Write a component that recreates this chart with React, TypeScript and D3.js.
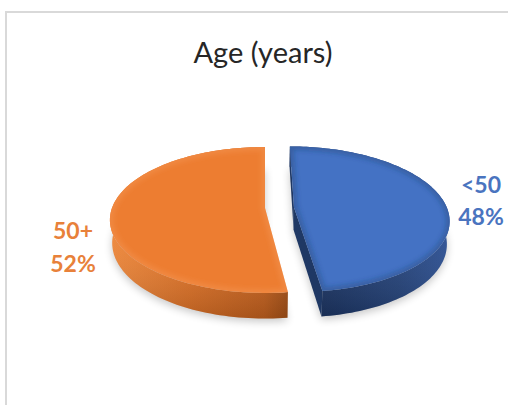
import React from 'react';
import * as d3 from 'd3';

const categories = ['<50', '50+'];
const values = [48, 52];
const percentLabels = ['48%', '52%'];
const chartTitle = 'Age (years)';
const sliceColors = ['#4472C4', '#ED7D31'];
const labelColors = ['#4A74BF', '#E8813A'];
const explodeAmounts = [0.19, 0];

const W = 508;
const H = 405;
const CX = 265;
const CY = 208;
const SCALE = 153;
const K = 0.164;
const SIN_T = 0.464;
const COS_T = Math.sqrt(1 - SIN_T * SIN_T);
const DIST = COS_T / K;
const THICK = 0.17;
const FOCAL = SCALE * DIST;

function project(X: number, Y: number, Z: number): [number, number] {
  const d = DIST - (Y * SIN_T + Z * COS_T);
  const up = Y * COS_T - Z * SIN_T;
  return [CX + (FOCAL * X) / d, CY - (FOCAL * up) / d];
}

const wallStops = [
  [
    ['0%', '#2E5296'],
    ['35%', '#26457D'],
    ['75%', '#1F3A6C'],
    ['100%', '#1C3461'],
  ],
  [
    ['0%', '#F0893C'],
    ['45%', '#E07327'],
    ['85%', '#C8631F'],
    ['100%', '#A24F16'],
  ],
];

export default function App() {
  const pie = d3.pie<number>().sort(null).value((v) => v);
  const arcs = pie(values);
  const line = d3.line<[number, number]>().curve(d3.curveLinearClosed);

  const slices = arcs.map((a, i) => {
    const mid = (a.startAngle + a.endAngle) / 2;
    const e = explodeAmounts[i];
    const ox = e * Math.sin(mid);
    const oz = -e * Math.cos(mid);
    const n = 120;
    const angles = d3.range(n + 1).map((j) => a.startAngle + ((a.endAngle - a.startAngle) * j) / n);
    const rim = (t: number, Y: number) => project(ox + Math.sin(t), Y, oz - Math.cos(t));
    const cTop = project(ox, 0, oz);
    const cBot = project(ox, -THICK, oz);
    const top = [cTop, ...angles.map((t) => rim(t, 0))] as [number, number][];
    const wall = [
      ...angles.map((t) => rim(t, 0)),
      ...angles.slice().reverse().map((t) => rim(t, -THICK)),
    ] as [number, number][];
    const bottom = [cBot, ...angles.map((t) => rim(t, -THICK))] as [number, number][];
    const cuts: [number, number][][] = [];
    const camX = 0, camZ = DIST * COS_T;
    [
      { t: a.startAngle, sign: -1 },
      { t: a.endAngle, sign: 1 },
    ].forEach(({ t, sign }) => {
      const nx = sign * Math.cos(t);
      const nz = sign * Math.sin(t);
      const px = ox + Math.sin(t) * 0.5;
      const pz = oz - Math.cos(t) * 0.5;
      const dot = (camX - px) * nx + (camZ - pz) * nz;
      if (dot > 0) {
        cuts.push([cTop, rim(t, 0), rim(t, -THICK), cBot]);
      }
    });
    return { i, top, wall, bottom, cuts, exploded: e > 0 };
  });

  const order = slices.slice().sort((p, q) => Number(p.exploded) - Number(q.exploded));

  return (
    <svg
      width={W}
      height={H}
      viewBox={`0 0 ${W} ${H}`}
      style={{ position: 'absolute', left: 0, top: 0, background: '#fff' }}
    >
      <defs>
        <filter id="shadowBlur" x="-20%" y="-20%" width="140%" height="140%">
          <feGaussianBlur stdDeviation="4" />
        </filter>
        <filter id="bevelBlur" x="-20%" y="-20%" width="140%" height="140%">
          <feGaussianBlur stdDeviation="2.5" />
        </filter>
        {wallStops.map((stops, i) => (
          <linearGradient
            key={i}
            id={`wall${i}`}
            gradientUnits="userSpaceOnUse"
            x1={i === 0 ? 450 : 108}
            y1={0}
            x2={i === 0 ? 305 : 292}
            y2={0}
          >
            {stops.map(([o, c]) => (
              <stop key={o} offset={o} stopColor={c} />
            ))}
          </linearGradient>
        ))}
        <linearGradient id="wallShade" x1="0" y1="0" x2="0" y2="1">
          <stop offset="0%" stopColor="#fff" stopOpacity={0.12} />
          <stop offset="40%" stopColor="#fff" stopOpacity={0} />
          <stop offset="100%" stopColor="#000" stopOpacity={0.18} />
        </linearGradient>
        {slices.map((s) => (
          <clipPath key={s.i} id={`topClip${s.i}`}>
            <path d={line(s.top) || ''} />
          </clipPath>
        ))}
      </defs>

      <rect x={6} y={12} width={W + 20} height={H + 20} fill="#fff" stroke="#D9D9D9" strokeWidth={2} />

      <text
        x={263}
        y={63}
        textAnchor="middle"
        fontFamily="Lato, 'Open Sans', sans-serif"
        fontSize={29}
        fill="#262626"
      >
        {chartTitle}
      </text>

      <g filter="url(#shadowBlur)" opacity={0.22}>
        {slices.map((s) => (
          <path key={s.i} d={line(s.bottom) || ''} transform="translate(0,3)" fill="#000" />
        ))}
      </g>

      {order.map((s) => (
        <g key={s.i}>
          {s.cuts.map((c, k) => (
            <path key={k} d={line(c) || ''} fill="#1F3864" />
          ))}
          <path d={line(s.wall) || ''} fill={`url(#wall${s.i})`} />
          <path d={line(s.wall) || ''} fill="url(#wallShade)" />
          <path d={line(s.top) || ''} fill={sliceColors[s.i]} />
          <g clipPath={`url(#topClip${s.i})`}>
            <path
              d={line(s.top) || ''}
              fill="none"
              stroke={s.i === 0 ? '#1F3864' : '#F6A060'}
              strokeOpacity={0.35}
              strokeWidth={7}
              filter="url(#bevelBlur)"
            />
          </g>
        </g>
      ))}

      <g fontFamily="Lato, 'Open Sans', sans-serif" fontWeight={700} fontSize={23} textAnchor="middle">
        <text x={481} y={193} fill={labelColors[0]}>{categories[0]}</text>
        <text x={481} y={225} fill={labelColors[0]}>{percentLabels[0]}</text>
        <text x={73} y={239} fill={labelColors[1]}>{categories[1]}</text>
        <text x={73} y={272} fill={labelColors[1]}>{percentLabels[1]}</text>
      </g>
    </svg>
  );
}
